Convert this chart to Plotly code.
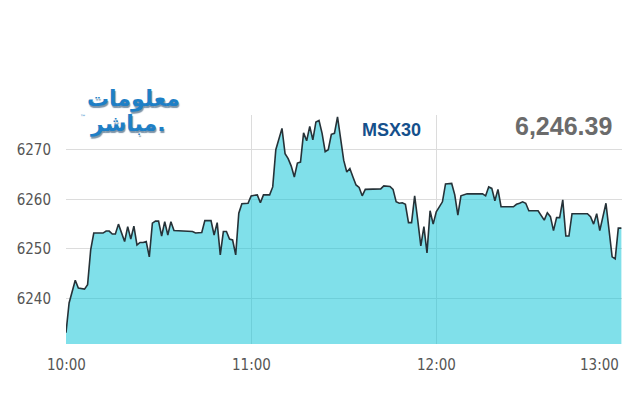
import plotly.graph_objects as go

DAY = "2024-01-01"

# minute offsets from 10:00 and index values
minutes = [0, 1, 3, 4, 6, 7, 8, 9, 12, 13, 14, 15, 16, 17, 19, 20, 21, 22, 23, 24,
           25, 26, 27, 28, 29, 30, 31, 32, 33, 34, 35, 37, 41, 42, 44, 45, 47, 48, 49, 50,
           51, 52, 53, 54, 55, 56, 57, 59, 60, 62, 63, 64, 66, 67, 68, 70, 71, 72, 73, 74,
           75, 76, 77, 78, 79, 80, 81, 82, 83, 84, 85, 86, 87, 88, 89, 90, 91, 92, 93, 94,
           95, 96, 97, 102, 103, 105, 106, 107, 108, 109, 110, 111, 112, 113, 114, 115, 116, 117, 118, 119,
           120, 121, 122, 123, 125, 126, 127, 128, 130, 134, 135, 136, 137, 138, 139, 140, 141, 145, 146, 147,
           148, 149, 150, 153, 155, 156, 157, 158, 159, 160, 161, 162, 163, 164, 169, 170, 171, 172, 173, 175,
           177, 178, 179, 180]
values = [6233.1, 6239.1, 6243.7, 6242.1, 6241.9, 6242.8, 6249.8, 6253.2, 6253.2, 6253.6, 6253.6, 6253.0, 6253.0, 6255.0, 6251.5, 6254.5, 6252.0, 6254.6, 6250.8, 6251.3,
          6251.3, 6251.5, 6248.4, 6255.2, 6255.6, 6255.6, 6252.6, 6255.5, 6252.8, 6255.5, 6253.7, 6253.6, 6253.5, 6253.2, 6253.3, 6255.7, 6255.7, 6252.8, 6255.3, 6248.8,
          6253.5, 6253.5, 6252.0, 6251.8, 6248.8, 6257.2, 6259.1, 6259.2, 6260.7, 6260.9, 6259.3, 6260.9, 6260.9, 6262.5, 6270.0, 6274.3, 6269.2, 6268.2, 6266.7, 6264.5,
          6267.3, 6267.5, 6273.4, 6271.8, 6274.7, 6272.0, 6275.6, 6275.9, 6273.3, 6269.6, 6270.0, 6273.1, 6273.3, 6276.6, 6272.6, 6267.9, 6265.5, 6266.2, 6264.5, 6262.9,
          6262.4, 6260.7, 6262.0, 6262.1, 6262.7, 6262.6, 6262.0, 6259.5, 6259.2, 6259.3, 6259.0, 6255.3, 6255.3, 6260.7, 6255.8, 6250.6, 6254.5, 6249.2, 6257.7, 6255.0,
          6257.5, 6258.4, 6259.5, 6263.1, 6263.2, 6260.9, 6256.8, 6260.7, 6261.1, 6261.1, 6261.1, 6260.7, 6262.5, 6262.2, 6259.7, 6262.0, 6258.5, 6258.5, 6259.0, 6259.2,
          6259.5, 6259.2, 6257.7, 6257.7, 6255.8, 6257.3, 6256.5, 6253.7, 6256.3, 6256.3, 6259.9, 6252.6, 6252.6, 6257.1, 6257.1, 6256.5, 6255.0, 6257.1, 6253.7, 6259.2,
          6248.4, 6248.0, 6254.2, 6254.2]

y_ticks = [6240, 6250, 6260, 6270]
x_tick_labels = ["10:00", "11:00", "12:00", "13:00"]
index_name = "MSX30"
last_value = "6,246.39"
logo_line1 = "معلومات"
logo_line2 = "مباشر."

times = [f"{DAY} {10 + m // 60:02d}:{m % 60:02d}:00" for m in minutes]
x_tick_vals = [f"{DAY} {lbl}:00" for lbl in x_tick_labels]

NARROW = "DejaVu Sans Condensed, Liberation Sans Narrow, Arial Narrow, sans-serif"

# page has an 8px body margin: figure is 632x392, plot area at viewport x 66..622, y 115..344
W, H = 632, 392
L, T = 58, 107
PW, PH = 556, 229


def dom(vx, vy):
    """viewport pixel -> plot-domain paper fraction"""
    return (vx - 66) / PW, (344 - vy) / PH


fig = go.Figure()
fig.add_trace(go.Scatter(
    x=times, y=values, mode="lines",
    line=dict(color="#263238", width=1.6),
    fill="tozeroy", fillcolor="rgba(1,193,213,0.5)",
    hoverinfo="skip", showlegend=False,
))

fig.update_layout(
    width=W, height=H,
    margin=dict(l=L, r=W - L - PW, t=T, b=H - T - PH, autoexpand=False),
    paper_bgcolor="white", plot_bgcolor="white",
    xaxis=dict(
        type="date", range=[x_tick_vals[0], f"{DAY} 13:00:12"],
        tickvals=x_tick_vals, showticklabels=False,
        showgrid=True, gridcolor="#dcdcdc", gridwidth=1,
        zeroline=False, showline=False, ticks="",
    ),
    yaxis=dict(
        range=[6230.83, 6277.0], tickvals=y_ticks,
        ticktext=[str(v) for v in y_ticks],
        showgrid=True, gridcolor="#dcdcdc", gridwidth=1,
        zeroline=False, showline=False, ticks="",
        tickfont=dict(family=NARROW, size=15, color="#555555"),
        ticklabelstandoff=14,
    ),
)

annotations = []
for i, (lbl, xv) in enumerate(zip(x_tick_labels, x_tick_vals)):
    annotations.append(dict(
        x=xv, y=0, xref="x", yref="paper", text=lbl, showarrow=False,
        xanchor="right" if i == len(x_tick_labels) - 1 else "center",
        yanchor="middle", yshift=-21,
        font=dict(family=NARROW, size=15, color="#555555"),
    ))

ax, ay = dom(391, 130)
annotations.append(dict(
    x=ax, y=ay, xref="paper", yref="paper",
    text=f"<b>{index_name}</b>", showarrow=False, xanchor="center", yanchor="middle",
    font=dict(family="Liberation Sans, Arial, sans-serif", size=18, color="#15508c"),
))
ax, ay = dom(614, 126)
annotations.append(dict(
    x=ax, y=ay, xref="paper", yref="paper",
    text=f"<b>{last_value}</b>", showarrow=False, xanchor="right", yanchor="middle",
    font=dict(family="Liberation Sans, Arial, sans-serif", size=25, color="#6b6b6b"),
))

# logo (as text)
for txt, cx, cy in [(logo_line1, 133, 99), (logo_line2, 128, 124)]:
    ax, ay = dom(cx, cy)
    annotations.append(dict(
        x=ax, y=ay, xref="paper", yref="paper",
        xanchor="center", yanchor="middle", showarrow=False,
        text=f"<b>{txt}</b>",
        font=dict(family="DejaVu Sans", size=22, color="#1e7fc6",
                  shadow="1px 2px 1px #7d94a8"),
    ))
ax, ay = dom(83, 116)
annotations.append(dict(
    x=ax, y=ay, xref="paper", yref="paper",
    xanchor="center", yanchor="middle", showarrow=False,
    text="™", font=dict(family="DejaVu Sans", size=6, color="#1e7fc6"),
))

fig.update_layout(annotations=annotations)
fig.write_html("out.html")
